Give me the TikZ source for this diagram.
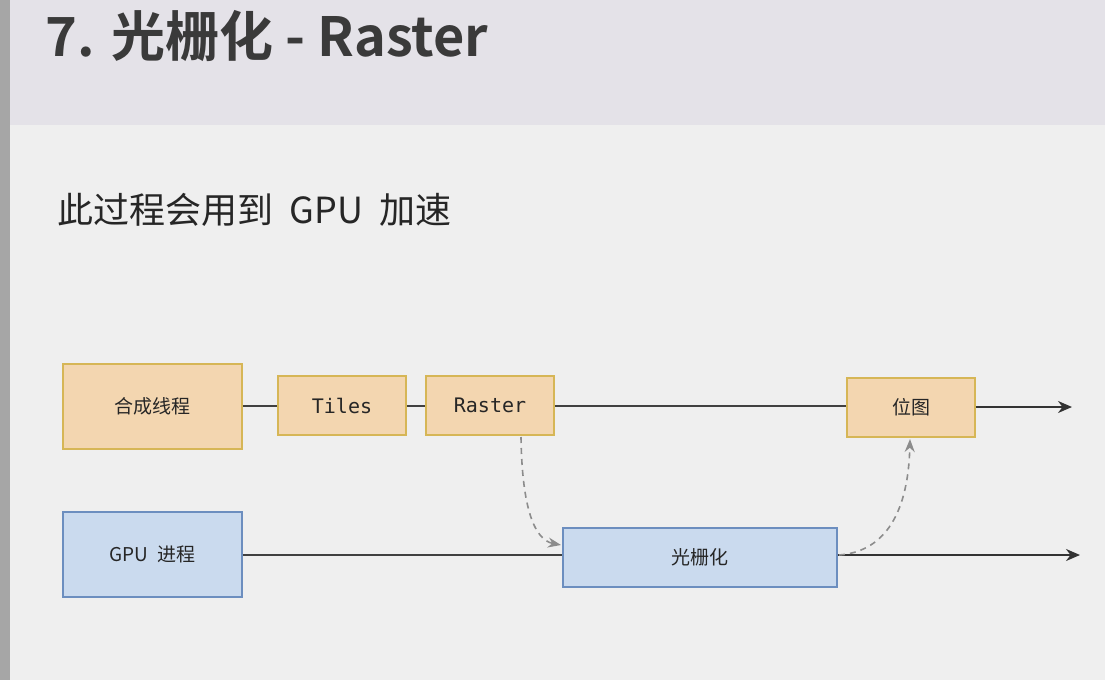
\documentclass[tikz,border=0pt]{standalone}
\usepackage{fontspec}
\setmainfont{Noto Sans CJK SC}
\newfontfamily\cjkb[BoldFont={Noto Sans CJK SC Bold}]{Noto Sans CJK SC}
\newfontfamily\monof{DejaVu Sans Mono}
\usetikzlibrary{arrows.meta}
\definecolor{hdr}{HTML}{E4E2E8}
\definecolor{bodyc}{HTML}{EFEFEF}
\definecolor{ofill}{HTML}{F3D6B0}
\definecolor{oline}{HTML}{D6B656}
\definecolor{bfill}{HTML}{CADAEE}
\definecolor{bline}{HTML}{6C8EBF}
\definecolor{txt}{HTML}{3A3A3A}
\begin{document}
\begin{tikzpicture}[x=1pt,y=-1pt,
  obox/.style={draw=oline,fill=ofill,line width=1.8pt,inner sep=0pt},
  bbox/.style={draw=bline,fill=bfill,line width=1.8pt,inner sep=0pt},
  lbl/.style={font=\fontsize{19}{22}\selectfont,text=black!85},
  mono/.style={font=\monof\fontsize{20}{22}\selectfont,text=black!85},
  plain/.style={line width=2pt,draw=black!75},
  flow/.style={line width=2pt,draw=black!80,-{Stealth[length=14pt,width=12pt]}},
  dashlink/.style={line width=1.6pt,draw=black!45,dash pattern=on 6pt off 5pt,-{Stealth[length=13pt,width=10pt]}}]
\useasboundingbox (0,0) rectangle (1105,680);
\fill[bodyc] (0,0) rectangle (1105,680);
\fill[hdr] (0,0) rectangle (1105,125);
\fill[black!35] (0,0) rectangle (10,680);
\node[anchor=west,text=txt,font=\cjkb\bfseries\fontsize{54}{60}\selectfont] (title) at (42,36) {7. 光栅化 - Raster};
\node[anchor=west,text=black!85,font=\fontsize{36}{42}\selectfont] (sub) at (54,210) {此过程会用到\ \ GPU\ \ 加速};
% top row
\node[obox,minimum width=179pt,minimum height=85pt,lbl] (hc) at (152.5,406.5) {合成线程};
\node[obox,minimum width=128pt,minimum height=59pt,mono] (tiles) at (342,405.5) {Tiles};
\node[obox,minimum width=128pt,minimum height=59pt,mono] (raster) at (490,405.5) {Raster};
\node[obox,minimum width=128pt,minimum height=59pt,lbl] (bitmap) at (911,407.5) {位图};
\coordinate (tend) at (1072,407);
\draw[plain] (hc.east|-tiles.west) -- (tiles.west);
\draw[plain] (tiles.east) -- (raster.west);
\draw[plain] (raster.east) -- (bitmap.west|-raster.east);
\draw[flow] (bitmap.east|-tend) -- (tend);
% bottom row
\node[bbox,minimum width=179pt,minimum height=85pt,lbl] (gpu) at (152.5,554.5) {GPU\ \ 进程};
\node[bbox,minimum width=274pt,minimum height=59pt,lbl] (gh) at (700,557.5) {光栅化};
\coordinate (bend) at (1080,555);
\draw[plain] (gpu.east|-bend) -- (gh.west|-bend);
\draw[flow] (gh.east|-bend) -- (bend);
% dashed
\coordinate (r1) at (521,437);
\coordinate (g1) at (561,545);
\draw[dashlink] (r1) .. controls (522,510) and (535,540) .. (g1);
\coordinate (g2) at (839,555);
\coordinate (b2) at (910,439);
\draw[dashlink] (g2) .. controls (880,552) and (908,520) .. (b2);
\end{tikzpicture}
\end{document}
